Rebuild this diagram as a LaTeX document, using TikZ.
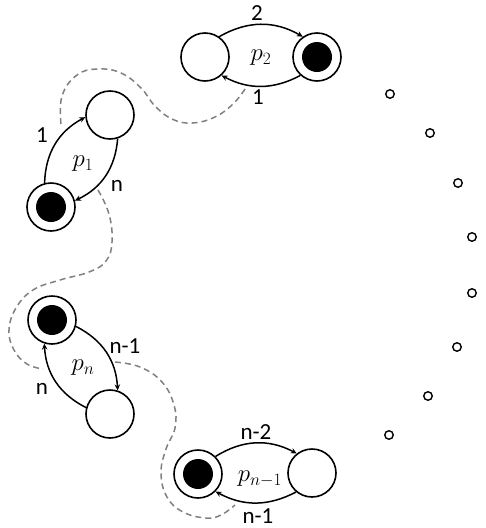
\documentclass[tikz,border=0pt]{standalone}
\usepackage{fontspec}
\setmainfont{Carlito}
\usetikzlibrary{arrows.meta}
\tikzset{
  st/.style={circle,draw,line width=1.6pt,minimum size=48pt,inner sep=0pt},
  arr/.style={line width=1.5pt,-{Stealth[length=6pt,width=5.5pt]}},
  lbl/.style={font=\fontsize{23}{26}\selectfont,inner sep=0pt},
  plbl/.style={font=\fontsize{26}{30}\selectfont,inner sep=0pt},
  dot/.style={circle,draw,line width=1.4pt,minimum size=8.5pt,inner sep=0pt},
  dashcurve/.style={draw=gray,line width=1.5pt,dash pattern=on 6pt off 4pt}
}
\begin{document}
\begin{tikzpicture}[x=1pt,y=1pt]
\useasboundingbox (0,0) rectangle (486,-528);
% dashed curves (behind)
\draw[dashcurve] plot[smooth,tension=0.7] coordinates {(61,-124) (62,-96) (77,-75) (98,-69) (121,-73) (141,-88) (155,-106) (172,-119) (192,-123) (215,-117) (234,-103) (247,-86)};
\draw[dashcurve] plot[smooth,tension=0.7] coordinates {(98,-190) (109,-214) (112,-242) (106,-261) (89,-272) (60,-280) (33,-290) (16,-308) (9,-330) (14,-350) (27,-364) (43,-369)};
\draw[dashcurve] plot[smooth,tension=0.7] coordinates {(115,-362) (140,-367) (162,-382) (174,-405) (175,-428) (166,-449) (161,-473) (167,-497) (183,-512) (206,-518) (221,-515) (235,-505)};
% p2
\node[st] (A2) at (205,-57) {};
\node[st] (B2) at (317,-57) {};
\fill (B2.center) circle (15pt);
\draw[arr] (A2.55) to[bend left=30] (B2.125);
\draw[arr] (B2.228) to[bend left=28] (A2.312);
\node[lbl] (l2a) at (257,-13) {2};
\node[lbl] (l2b) at (258,-97) {1};
\node[plbl] (p2) at (261,-58) {$p_2$};
% p1
\node[st] (A1) at (110,-115) {};
\node[st] (B1) at (51,-207) {};
\fill (B1.center) circle (15pt);
\draw[arr] (B1.105) to[bend left=30] (A1.185);
\draw[arr] (A1.288) to[bend left=30] (B1.15);
\node[lbl] (l1a) at (42,-135) {1};
\node[lbl] (l1b) at (117,-186) {n};
\node[plbl] (p1) at (83,-164) {$p_1$};
% pn
\node[st] (Bn) at (52,-320) {};
\node[st] (An) at (110,-414) {};
\fill (Bn.center) circle (15pt);
\draw[arr] (Bn.-15) to[bend left=30] (An.72);
\draw[arr] (An.165) to[bend left=30] (Bn.252);
\node[lbl] (lna) at (125,-346) {n-1};
\node[lbl] (lnb) at (42,-389) {n};
\node[plbl] (pn) at (83,-368) {$p_n$};
% pn-1
\node[st] (Bm) at (198,-474) {};
\node[st] (Am) at (312,-473) {};
\fill (Bm.center) circle (15pt);
\draw[arr] (Bm.45) to[bend left=30] (Am.128);
\draw[arr] (Am.230) to[bend left=28] (Bm.315);
\node[lbl] (lma) at (256,-432) {n-2};
\node[lbl] (lmb) at (258,-516) {n-1};
\node[plbl] (pm) at (260,-479) {$p_{n-1}$};
% dots
\node[dot] (d1) at (390,-94) {};
\node[dot] (d2) at (430,-133) {};
\node[dot] (d3) at (458,-183) {};
\node[dot] (d4) at (472,-237) {};
\node[dot] (d5) at (472,-293) {};
\node[dot] (d6) at (457,-347) {};
\node[dot] (d7) at (428,-396) {};
\node[dot] (d8) at (389,-435) {};
\end{tikzpicture}
\end{document}
